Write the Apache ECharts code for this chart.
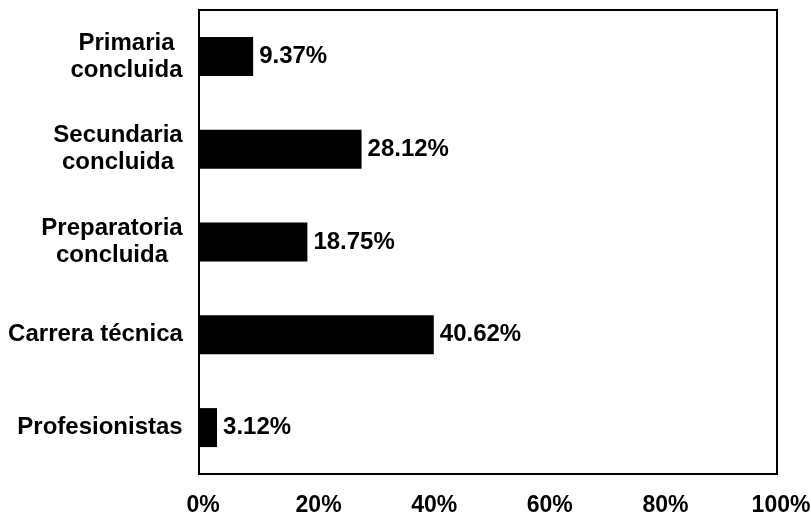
<!DOCTYPE html>
<html>
<head>
<meta charset="utf-8">
<script src="https://cdn.jsdelivr.net/npm/echarts@6/dist/echarts.min.js"></script>
<style>
    html, body { margin: 0; padding: 0; background: #fff; }
    #chart { width: 811px; height: 517px; }
</style>
</head>
<body>
<div id="chart"></div>
<script>
// datos del grafico
const categories = ['Primaria\nconcluida', 'Secundaria\nconcluida', 'Preparatoria\nconcluida', 'Carrera técnica', 'Profesionistas'];
const values = [9.37, 28.12, 18.75, 40.62, 3.12];
const xMin = 0;
const xMax = 100;
const xStep = 20;

const FONT = '"Liberation Sans", Arial, sans-serif';
const SIZE = 24;

// cada linea centrada dentro del bloque, el bloque alineado a la derecha
const ctx = document.createElement('canvas').getContext('2d');
ctx.font = 'bold ' + SIZE + 'px ' + FONT;
const rich = {};
categories.forEach(function (c, i) {
    const w = Math.max.apply(null, c.split('\n').map(function (l) { return ctx.measureText(l).width; }));
    rich['l' + i] = {
        width: Math.ceil(w),
        align: 'center',
        fontSize: SIZE,
        fontWeight: 'bold',
        fontFamily: FONT,
        color: '#000',
        lineHeight: 27
    };
});

const chart = echarts.init(document.getElementById('chart'));
chart.setOption({
    animation: false,
    grid: {
        left: 199,
        right: 34,
        top: 10,
        bottom: 43,
        outerBoundsMode: 'none',
        containLabel: false,
        show: true,
        borderColor: '#000',
        borderWidth: 2
    },
    xAxis: {
        type: 'value',
        min: xMin,
        max: xMax,
        interval: xStep,
        axisLine: { show: false },
        axisTick: { show: false },
        splitLine: { show: false },
        axisLabel: {
            formatter: '{value}%',
            margin: 20,
            padding: [0, 0, 0, 8],
            color: '#000',
            fontSize: 23,
            fontWeight: 'bold',
            fontFamily: FONT
        }
    },
    yAxis: {
        type: 'category',
        data: categories,
        inverse: true,
        axisLine: { show: true, lineStyle: { color: '#000', width: 2 } },
        axisTick: { show: false },
        axisLabel: {
            margin: 16,
            align: 'right',
            rich: rich,
            formatter: function (value, index) {
                return value.split('\n').map(function (l) { return '{l' + index + '|' + l + '}'; }).join('\n');
            }
        }
    },
    series: [{
        type: 'bar',
        data: values,
        barWidth: 39,
        itemStyle: { color: '#000' },
        label: {
            show: true,
            position: 'right',
            distance: 6,
            formatter: '{c}%',
            color: '#000',
            fontSize: SIZE,
            fontWeight: 'bold',
            fontFamily: FONT
        }
    }]
});
</script>
</body>
</html>
